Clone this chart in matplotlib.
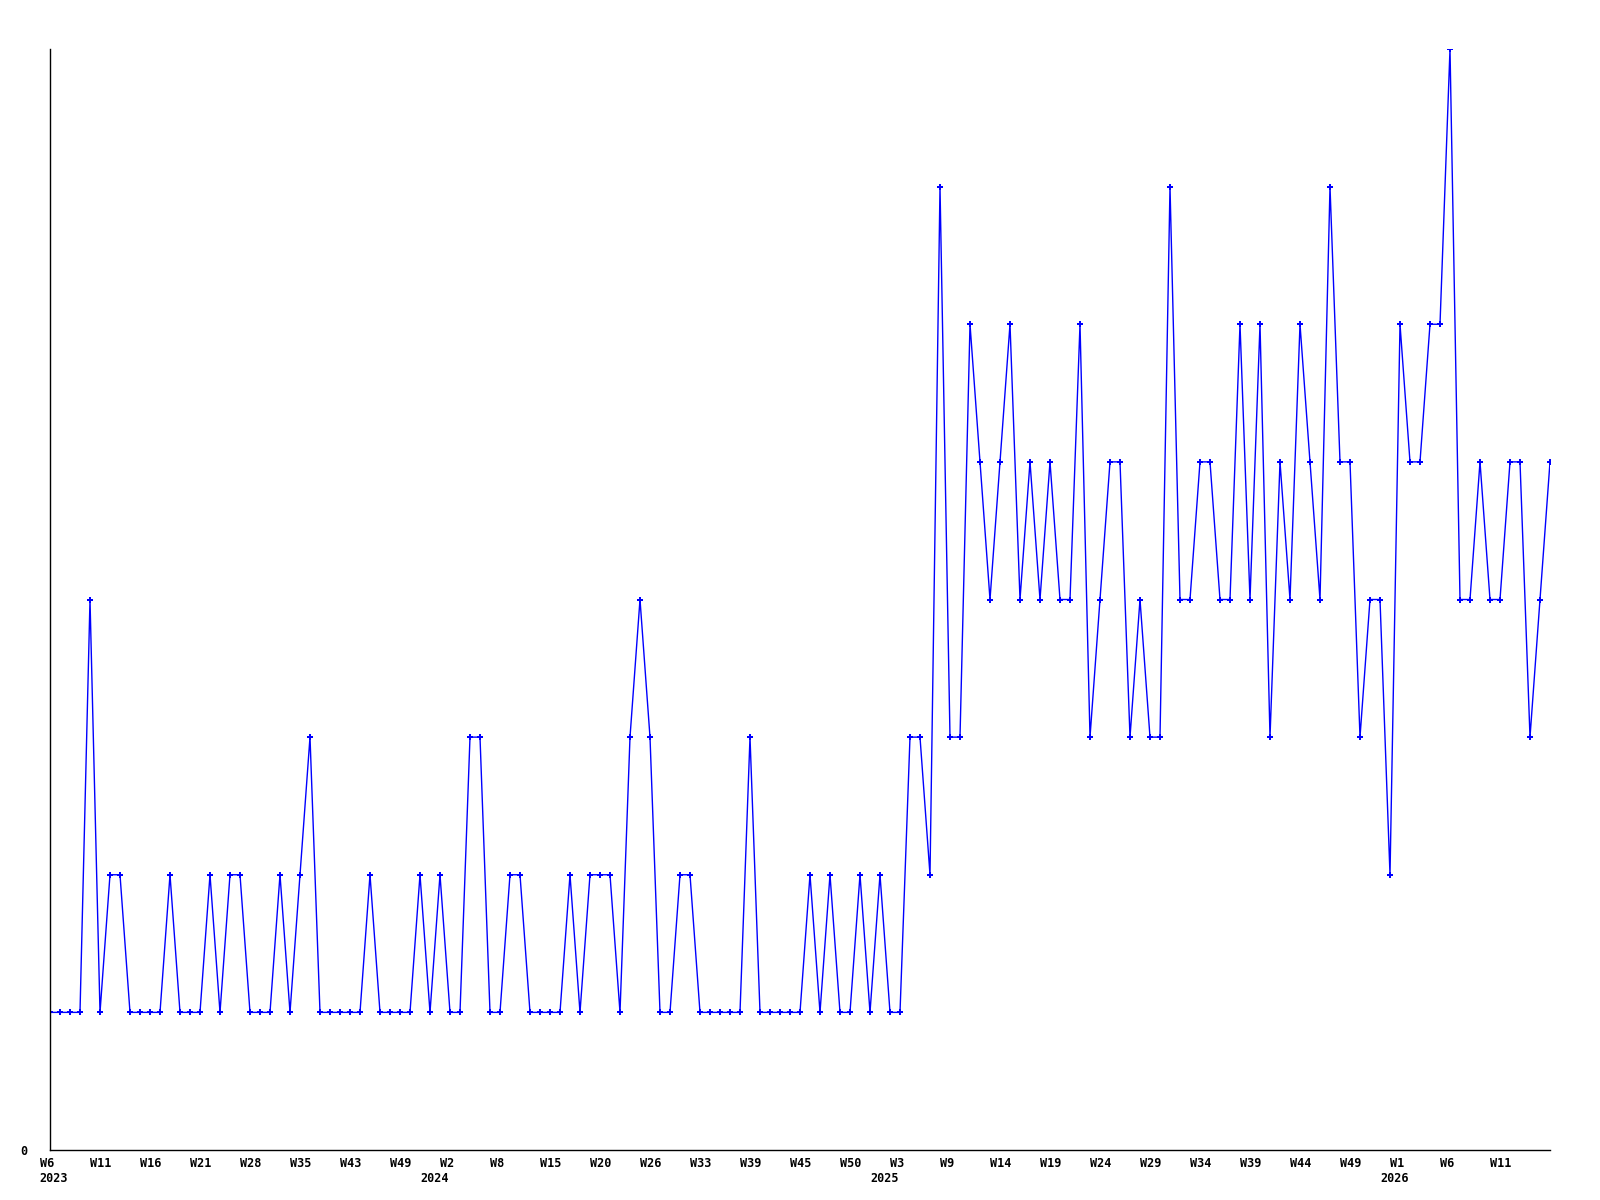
import matplotlib
matplotlib.use("Agg")
import matplotlib.pyplot as plt
from matplotlib.transforms import ScaledTranslation, blended_transform_factory

# ---- data ----
values = [
    1, 1, 1, 1, 4, 1, 2, 2, 1, 1,
    1, 1, 2, 1, 1, 1, 2, 1, 2, 2,
    1, 1, 1, 2, 1, 2, 3, 1, 1, 1,
    1, 1, 2, 1, 1, 1, 1, 2, 1, 2,
    1, 1, 3, 3, 1, 1, 2, 2, 1, 1,
    1, 1, 2, 1, 2, 2, 2, 1, 3, 4,
    3, 1, 1, 2, 2, 1, 1, 1, 1, 1,
    3, 1, 1, 1, 1, 1, 2, 1, 2, 1,
    1, 2, 1, 2, 1, 1, 3, 3, 2, 7,
    3, 3, 6, 5, 4, 5, 6, 4, 5, 4,
    5, 4, 4, 6, 3, 4, 5, 5, 3, 4,
    3, 3, 7, 4, 4, 5, 5, 4, 4, 6,
    4, 6, 3, 5, 4, 6, 5, 4, 7, 5,
    5, 3, 4, 4, 2, 6, 5, 5, 6, 6,
    8, 4, 4, 5, 4, 4, 5, 5, 3, 4,
    5,
]
week_labels = ['W6', 'W11', 'W16', 'W21', 'W28', 'W35', 'W43', 'W49', 'W2', 'W8',
               'W15', 'W20', 'W26', 'W33', 'W39', 'W45', 'W50', 'W3', 'W9', 'W14',
               'W19', 'W24', 'W29', 'W34', 'W39', 'W44', 'W49', 'W1', 'W6', 'W11']
label_every = 5
year_labels = ['2023', '2024', '2025', '2026']
year_positions = [-1.04, 37.0, 82.0, 133.0]

x = list(range(len(values)))
tick_pos = [i * label_every for i in range(len(week_labels))]

fig = plt.figure(figsize=(16, 12), dpi=100)
ax = fig.add_axes([50 / 1600, 1 - 1150 / 1200, 1500 / 1600, (1150 - 49) / 1200])

ax.plot(x, values, color='#0000FF', linewidth=1.0, marker='P', markersize=4.5,
        markerfacecolor='#0000FF', markeredgecolor='#0000FF', markeredgewidth=0.0)

ax.set_xlim(0, len(values) - 1)
ax.set_ylim(0, 8)

for s in ['top', 'right']:
    ax.spines[s].set_visible(False)
for s in ['left', 'bottom']:
    ax.spines[s].set_color('black')
    ax.spines[s].set_linewidth(1.0)

font = dict(family='DejaVu Sans Mono', weight='bold', size=8.5)

ax.set_xticks(tick_pos)
ax.set_xticklabels(week_labels, **font)
ax.tick_params(axis='x', length=0, pad=5, colors='black')
offset = ScaledTranslation(-10.5 / 100, 0, fig.dpi_scale_trans)
for lab in ax.get_xticklabels():
    lab.set_horizontalalignment('left')
    lab.set_transform(lab.get_transform() + offset)

ax.set_yticks([0])
ax.set_yticklabels(['0'], **font)
ax.tick_params(axis='y', length=0, pad=16.3, colors='black')

trans = blended_transform_factory(ax.transData, ax.transAxes)
for lbl, pos in zip(year_labels, year_positions):
    ax.text(pos, 0, lbl, transform=trans + ScaledTranslation(0, -28 / 100, fig.dpi_scale_trans),
            ha='left', va='center', **font)

fig.savefig('out.png', dpi=100, facecolor='white')
